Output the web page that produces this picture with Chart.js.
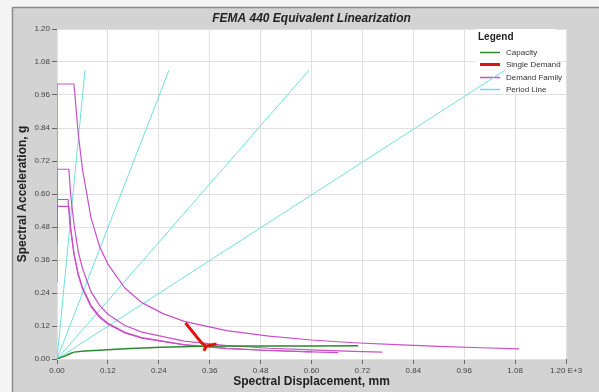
<!DOCTYPE html>
<html>
<head>
<meta charset="utf-8">
<title>FEMA 440 Equivalent Linearization</title>
<script src="https://cdn.jsdelivr.net/npm/chart.js@4.4.1/dist/chart.umd.min.js"></script>
<style>
    html, body { margin: 0; padding: 0; background: #f4f4f4; }
    #wrap { width: 599px; height: 392px; }
</style>
</head>
<body>
<div id="wrap"><canvas id="femaChart" width="599" height="392"></canvas></div>
<script>
// Axis ticks
const xTickValues = [0, 0.12, 0.24, 0.36, 0.48, 0.60, 0.72, 0.84, 0.96, 1.08, 1.20];
const xTickLabels = ['0.00', '0.12', '0.24', '0.36', '0.48', '0.60', '0.72', '0.84', '0.96', '1.08', '1.20 E+3'];
const yTickValues = [0, 0.12, 0.24, 0.36, 0.48, 0.60, 0.72, 0.84, 0.96, 1.08, 1.20];
const yTickLabels = ['0.00', '0.12', '0.24', '0.36', '0.48', '0.60', '0.72', '0.84', '0.96', '1.08', '1.20'];

// Capacity curve
const capacityX = [0, 0.01, 0.02, 0.03, 0.04, 0.065, 0.10, 0.16, 0.245, 0.34, 0.45, 0.60, 0.71];
const capacityY = [0, 0.006, 0.012, 0.019, 0.025, 0.029, 0.032, 0.037, 0.043, 0.046, 0.047, 0.047, 0.048];

// Single demand (red)
const singleX = [0.303, 0.340, 0.352, 0.346, 0.352, 0.376];
const singleY = [0.131, 0.060, 0.045, 0.030, 0.047, 0.055];

// Demand family (4 spectra)
const demandAX = [0, 0, 0.04, 0.05, 0.06, 0.08, 0.10, 0.12, 0.16, 0.20, 0.25, 0.30, 0.40, 0.50, 0.60, 0.70, 0.80, 0.90, 1.00, 1.09];
const demandAY = [0.28, 1.00, 1.00, 0.82, 0.69, 0.515, 0.41, 0.345, 0.258, 0.205, 0.165, 0.137, 0.103, 0.083, 0.069, 0.059, 0.052, 0.046, 0.041, 0.037];
const demandBX = [0, 0, 0.028, 0.032, 0.04, 0.05, 0.06, 0.08, 0.10, 0.12, 0.16, 0.20, 0.30, 0.40, 0.50, 0.60, 0.70, 0.767];
const demandBY = [0.42, 0.69, 0.69, 0.60, 0.49, 0.39, 0.33, 0.245, 0.196, 0.163, 0.122, 0.098, 0.065, 0.049, 0.039, 0.033, 0.028, 0.025];
const demandCX = [0, 0, 0.026, 0.03, 0.04, 0.05, 0.06, 0.08, 0.10, 0.12, 0.16, 0.20, 0.30, 0.40, 0.50, 0.60, 0.663];
const demandCY = [0.44, 0.58, 0.58, 0.50, 0.38, 0.305, 0.255, 0.19, 0.152, 0.127, 0.095, 0.076, 0.051, 0.038, 0.031, 0.026, 0.023];
const demandDX = [0, 0, 0.028, 0.032, 0.04, 0.05, 0.06, 0.08, 0.10, 0.12, 0.16, 0.20, 0.30, 0.40, 0.50, 0.60];
const demandDY = [0.45, 0.555, 0.555, 0.48, 0.385, 0.31, 0.26, 0.195, 0.156, 0.13, 0.097, 0.078, 0.052, 0.039, 0.031, 0.026];

// Period lines from origin
const periodEndX = [0.066, 0.264, 0.594, 1.056];
const periodEndY = [1.05, 1.05, 1.05, 1.05];

const COLORS = {
    capacity: '#2b8a2b',
    single: '#e01414',
    family: '#c850c8',
    period: '#70dede'
};

function toPoints(xs, ys) {
    return xs.map((x, i) => ({ x: x, y: ys[i] }));
}

function lineSet(label, points, color, width) {
    return {
        label: label,
        data: points,
        showLine: true,
        borderColor: color,
        backgroundColor: color,
        borderWidth: width,
        pointRadius: 0,
        pointHoverRadius: 0,
        tension: 0,
        fill: false
    };
}

const datasets = [
    lineSet('Single Demand', toPoints(singleX, singleY), COLORS.single, 3),
    lineSet('Capacity', toPoints(capacityX, capacityY), COLORS.capacity, 1.5),
    lineSet('Demand Family', toPoints(demandAX, demandAY), COLORS.family, 1.2),
    lineSet('Demand Family', toPoints(demandBX, demandBY), COLORS.family, 1.2),
    lineSet('Demand Family', toPoints(demandCX, demandCY), COLORS.family, 1.2),
    lineSet('Demand Family', toPoints(demandDX, demandDY), COLORS.family, 1.2)
];
periodEndX.forEach((x, i) => {
    datasets.push(lineSet('Period Line', [{ x: 0, y: 0 }, { x: x, y: periodEndY[i] }], COLORS.period, 1));
});

const legendOrder = ['Capacity', 'Single Demand', 'Demand Family', 'Period Line'];

// gray frame + white plot panel
const panelPlugin = {
    id: 'panel',
    beforeDraw(chart) {
        const { ctx, chartArea: a, width, height } = chart;
        ctx.save();
        ctx.fillStyle = '#f4f4f4';
        ctx.fillRect(0, 0, width, height);
        ctx.fillStyle = '#d3d3d3';
        ctx.fillRect(12, 7, width - 12, height - 7);
        ctx.strokeStyle = '#8c8c8c';
        ctx.lineWidth = 1.5;
        ctx.beginPath();
        ctx.moveTo(12.5, height);
        ctx.lineTo(12.5, 7.5);
        ctx.lineTo(width, 7.5);
        ctx.stroke();
        ctx.fillStyle = '#ffffff';
        ctx.fillRect(a.left, a.top, a.width, a.height);
        ctx.restore();
    }
};

// legend box in the upper right corner of the plot
const boxLegendPlugin = {
    id: 'boxLegend',
    beforeDatasetsDraw(chart) {
        const { ctx, chartArea: a } = chart;
        const x0 = a.right - 91;
        const y0 = a.top;
        ctx.save();
        ctx.fillStyle = '#ffffff';
        ctx.fillRect(x0, y0, 81, 63);
        ctx.fillStyle = '#222';
        ctx.textBaseline = 'middle';
        ctx.textAlign = 'left';
        ctx.font = 'bold 10px "Liberation Sans", Arial, sans-serif';
        ctx.fillText('Legend', x0 + 3, y0 + 8);
        ctx.font = '8px "Liberation Sans", Arial, sans-serif';
        legendOrder.forEach((name, i) => {
            const ds = chart.data.datasets.find(d => d.label === name);
            const y = Math.round(y0 + 23 + i * 12.4) + 0.5;
            ctx.strokeStyle = ds.borderColor;
            ctx.lineWidth = name === 'Single Demand' ? 3 : 1.5;
            ctx.beginPath();
            ctx.moveTo(x0 + 5, y);
            ctx.lineTo(x0 + 25, y);
            ctx.stroke();
            ctx.fillStyle = '#333';
            ctx.fillText(name, x0 + 31, y);
        });
        ctx.restore();
    }
};

Chart.defaults.font.family = '"Liberation Sans", Arial, sans-serif';

const ctx = document.getElementById('femaChart').getContext('2d');
new Chart(ctx, {
    type: 'scatter',
    data: { datasets: datasets },
    plugins: [panelPlugin, boxLegendPlugin],
    options: {
        responsive: false,
        animation: false,
        layout: { padding: { left: 12, top: 7, right: 33, bottom: 0 } },
        plugins: {
            legend: { display: false },
            tooltip: { enabled: false },
            title: {
                display: true,
                text: 'FEMA 440 Equivalent Linearization',
                fullSize: false,
                color: '#222',
                font: { size: 12, weight: 'bold', style: 'italic' },
                padding: { top: 4, bottom: 3.6 }
            }
        },
        scales: {
            x: {
                type: 'linear',
                min: 0,
                max: 1.2,
                afterFit(scale) { scale.height = 33; },
                afterBuildTicks(scale) { scale.ticks = xTickValues.map(v => ({ value: v })); },
                ticks: {
                    autoSkip: false,
                    maxRotation: 0,
                    padding: 2,
                    color: '#444',
                    font: { size: 8 },
                    callback: (v, i) => xTickLabels[i]
                },
                grid: { color: '#e0e0e0', tickColor: '#666', tickLength: 5 },
                border: { display: false },
                title: {
                    display: true,
                    text: 'Spectral Displacement, mm',
                    color: '#222',
                    font: { size: 12, weight: 'bold' },
                    padding: { top: 0, bottom: 3 }
                }
            },
            y: {
                type: 'linear',
                min: 0,
                max: 1.2,
                afterFit(scale) { scale.width = 45; },
                afterBuildTicks(scale) { scale.ticks = yTickValues.map(v => ({ value: v })); },
                ticks: {
                    autoSkip: false,
                    padding: 2,
                    color: '#444',
                    font: { size: 8 },
                    callback: (v, i) => yTickLabels[i]
                },
                grid: { color: '#e0e0e0', tickColor: '#666', tickLength: 5 },
                border: { display: false },
                title: {
                    display: true,
                    text: 'Spectral Acceleration, g',
                    color: '#222',
                    font: { size: 12, weight: 'bold' },
                    padding: 3
                }
            }
        }
    }
});
</script>
</body>
</html>
